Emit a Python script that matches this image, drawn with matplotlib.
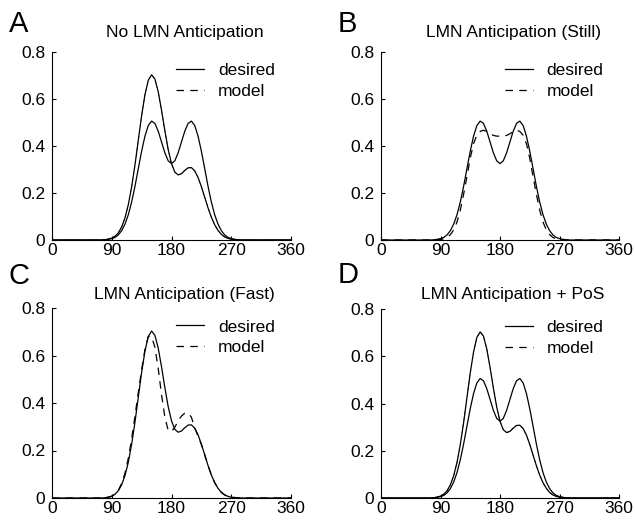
import matplotlib
matplotlib.use("Agg")
import matplotlib.pyplot as plt
from matplotlib.lines import Line2D

plt.rcParams['font.family'] = ['Liberation Sans', 'DejaVu Sans']

# head direction (deg), sampled every 5 deg between 80 and 280
angle = [0, 75, 80, 85, 90, 95, 100, 105, 110, 115, 120, 125, 130, 135, 140, 145,
         150, 155, 160, 165, 170, 175, 180, 185, 190, 195, 200, 205, 210, 215,
         220, 225, 230, 235, 240, 245, 250, 255, 260, 265, 270, 275, 280, 285, 360]

# desired profile, large first peak (0.7 / 0.3)
skewed = [0, 0, 0.001, 0.004, 0.008, 0.016, 0.031, 0.056, 0.095, 0.151, 0.227, 0.320,
          0.425, 0.529, 0.618, 0.680, 0.703, 0.685, 0.631, 0.552, 0.465, 0.385, 0.325,
          0.289, 0.277, 0.282, 0.296, 0.307, 0.308, 0.294, 0.266, 0.227, 0.182, 0.137,
          0.097, 0.065, 0.041, 0.024, 0.013, 0.007, 0.003, 0.002, 0.001, 0, 0]

# desired profile, two equal peaks (0.5 / 0.5)
even = [0, 0, 0.001, 0.003, 0.006, 0.011, 0.022, 0.040, 0.068, 0.108, 0.162, 0.229,
        0.304, 0.378, 0.442, 0.487, 0.506, 0.496, 0.463, 0.417, 0.371, 0.337, 0.325,
        0.337, 0.371, 0.417, 0.463, 0.496, 0.506, 0.487, 0.442, 0.378, 0.304, 0.229,
        0.162, 0.108, 0.068, 0.040, 0.022, 0.011, 0.006, 0.003, 0.001, 0, 0]

# model output, still
model_still = [0, 0, 0.000, 0.001, 0.002, 0.005, 0.011, 0.023, 0.043, 0.077, 0.128, 0.195,
               0.270, 0.348, 0.410, 0.446, 0.462, 0.467, 0.462, 0.452, 0.445, 0.442, 0.442,
               0.442, 0.445, 0.452, 0.462, 0.467, 0.462, 0.446, 0.410, 0.348, 0.270, 0.195,
               0.128, 0.077, 0.043, 0.023, 0.011, 0.005, 0.002, 0.001, 0.000, 0, 0]

# model output, fast turning
model_fast = [0, 0, 0.001, 0.003, 0.007, 0.016, 0.033, 0.062, 0.105, 0.168, 0.250, 0.345,
              0.445, 0.540, 0.625, 0.680, 0.680, 0.635, 0.545, 0.435, 0.340, 0.285, 0.280,
              0.298, 0.325, 0.345, 0.357, 0.358, 0.340, 0.295, 0.260, 0.225, 0.182, 0.137,
              0.097, 0.065, 0.041, 0.024, 0.013, 0.007, 0.003, 0.002, 0.001, 0, 0]

panels = [
    ("A", "No LMN Anticipation", [skewed, even], skewed),
    ("B", "LMN Anticipation (Still)", [even], model_still),
    ("C", "LMN Anticipation (Fast)", [skewed], model_fast),
    ("D", "LMN Anticipation + PoS", [skewed, even], skewed),
]

xticks = [0, 90, 180, 270, 360]
xlabels = ["0", "90", "180", "270", "360"]
yticks = [0, 0.2, 0.4, 0.6, 0.8]
ylabels = ["0", "0.2", "0.4", "0.6", "0.8"]

W, H = 635, 521
fig = plt.figure(figsize=(W / 100, H / 100), dpi=100)

# axes boxes in pixels: left, right, top, bottom; then title y, letter y
boxes = [(52, 291, 52, 240, 32, 24), (381, 619, 52, 240, 32, 24),
         (52, 291, 308, 498, 294, 276), (381, 619, 309, 498, 294, 275)]

dash = (0, (6, 5))

for (letter, title, desired, model), (l, r, t, b, ty, ly) in zip(panels, boxes):
    ax = fig.add_axes([l / W, 1 - b / H, (r - l) / W, (b - t) / H])
    # model hidden under the desired curve when they coincide
    hidden = any(model is d for d in desired)
    ax.plot(angle, model, color='black', lw=0.4 if hidden else 0.9, ls=dash,
            zorder=2)
    for d in desired:
        ax.plot(angle, d, color='black', lw=0.9, zorder=3)

    ax.set_xlim(0, 360)
    ax.set_ylim(0, 0.8)
    ax.set_xticks(xticks)
    ax.set_xticklabels(xlabels)
    ax.set_yticks(yticks)
    ax.set_yticklabels(ylabels)
    ax.tick_params(direction='in', length=3, width=0.8, labelsize=12.5)
    ax.tick_params(axis='y', pad=5)
    ax.tick_params(axis='x', pad=2)
    for s in ['top', 'right']:
        ax.spines[s].set_visible(False)
    for s in ['left', 'bottom']:
        ax.spines[s].set_linewidth(0.8)

    handles = [Line2D([], [], color='black', lw=0.9),
               Line2D([], [], color='black', lw=0.9, ls=dash)]
    ax.legend(handles, ['desired', 'model'],
              loc='upper left', bbox_to_anchor=(0.52, 0.94), frameon=False,
              fontsize=12.5, handlelength=1.6, handletextpad=0.8,
              labelspacing=0.3, borderpad=0, borderaxespad=0)

    fig.text((l + 0.555 * (r - l)) / W, 1 - ty / H, title, ha='center',
             va='center', fontsize=12.5)
    fig.text((l - 43) / W, 1 - ly / H, letter, ha='left', va='center', fontsize=21)

fig.savefig("out.png", dpi=100)
